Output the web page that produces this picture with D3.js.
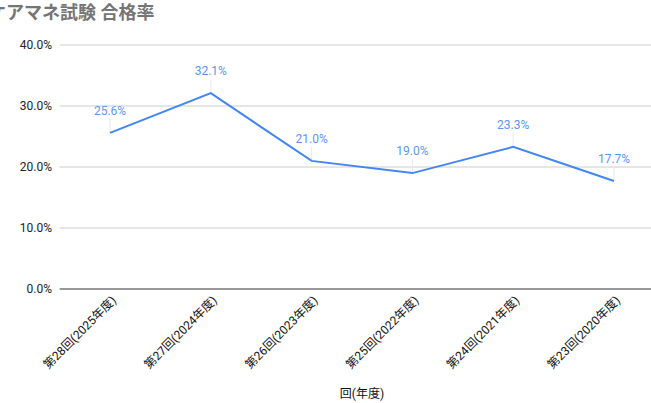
<!DOCTYPE html>
<html>
<head>
<meta charset="utf-8">
<script src="https://cdn.jsdelivr.net/npm/d3@7"></script>
<style>
  body { margin: 0; background: #fff; overflow: hidden; }
  svg text { font-family: Roboto, "Noto Sans CJK JP", sans-serif; }
</style>
</head>
<body>
<div id="chart"></div>
<script>
// data
var rounds = ["第28回(2025年度)", "第27回(2024年度)", "第26回(2023年度)",
              "第25回(2022年度)", "第24回(2021年度)", "第23回(2020年度)"];
var passRate = [25.6, 32.1, 21.0, 19.0, 23.3, 17.7];
var yTicks = [0, 10, 20, 30, 40];

var width = 651, height = 403;
var plot = {left: 59.6, right: 664.4, top: 45, bottom: 289};

var svg = d3.select("#chart").append("svg")
    .attr("width", width)
    .attr("height", height);

var x = d3.scalePoint()
    .domain(rounds)
    .range([plot.left, plot.right])
    .padding(0.5);

var y = d3.scaleLinear()
    .domain([0, 40])
    .range([plot.bottom, plot.top]);

// title (its first character is cut off at the left edge, as in the original)
svg.append("text")
    .attr("x", -12)
    .attr("y", 19)
    .style("font-size", "18px")
    .style("font-weight", "bold")
    .style("fill", "#757575")
    .text("ケアマネ試験 合格率");

// grid
svg.selectAll(".grid")
    .data(yTicks.filter(function(d){ return d > 0; }))
    .enter().append("line")
    .attr("x1", plot.left)
    .attr("x2", plot.right)
    .attr("y1", function(d){ return y(d); })
    .attr("y2", function(d){ return y(d); })
    .attr("stroke", "#cccccc")
    .attr("stroke-width", 1);

svg.append("line")
    .attr("x1", plot.left)
    .attr("x2", plot.right)
    .attr("y1", y(0))
    .attr("y2", y(0))
    .attr("stroke", "#333")
    .attr("stroke-width", 1);

svg.selectAll(".ytick")
    .data(yTicks)
    .enter().append("text")
    .attr("x", 52)
    .attr("y", function(d){ return y(d); })
    .attr("dy", "0.35em")
    .attr("text-anchor", "end")
    .style("font-size", "12px")
    .style("fill", "#222")
    .text(function(d){ return d3.format(".1f")(d) + "%"; });

// x labels, rotated
svg.selectAll(".xlabel")
    .data(rounds)
    .enter().append("text")
    .attr("text-anchor", "end")
    .attr("transform", function(d){
      return "translate(" + (x(d) + 4) + "," + (y(0) + 9) + ") rotate(-45)";
    })
    .attr("dy", "0.35em")
    .style("font-size", "12px")
    .style("fill", "#111")
    .text(function(d){ return d; });

svg.append("text")
    .attr("x", (plot.left + plot.right) / 2)
    .attr("y", 398)
    .attr("text-anchor", "middle")
    .style("font-size", "12px")
    .style("fill", "#111")
    .text("回(年度)");

// leader lines + labels
var pts = rounds.map(function(r, i){ return {r: r, v: passRate[i]}; });

svg.selectAll(".leader")
    .data(pts)
    .enter().append("line")
    .attr("x1", function(d){ return x(d.r); })
    .attr("x2", function(d){ return x(d.r); })
    .attr("y1", function(d){ return y(d.v); })
    .attr("y2", function(d){ return y(d.v) - 14; })
    .attr("stroke", "#e8e8e8")
    .attr("stroke-width", 1);

var line = d3.line()
    .x(function(d){ return x(d.r); })
    .y(function(d){ return y(d.v); });

svg.append("path")
    .datum(pts)
    .attr("d", line)
    .attr("fill", "none")
    .attr("stroke", "#4285f4")
    .attr("stroke-width", 2);

svg.selectAll(".vlabel")
    .data(pts)
    .enter().append("text")
    .attr("x", function(d){ return x(d.r); })
    .attr("y", function(d){ return y(d.v) - 18; })
    .attr("text-anchor", "middle")
    .style("font-size", "12px")
    .style("fill", "#5a95f5")
    .text(function(d){ return d3.format(".1f")(d.v) + "%"; });
</script>
</body>
</html>
